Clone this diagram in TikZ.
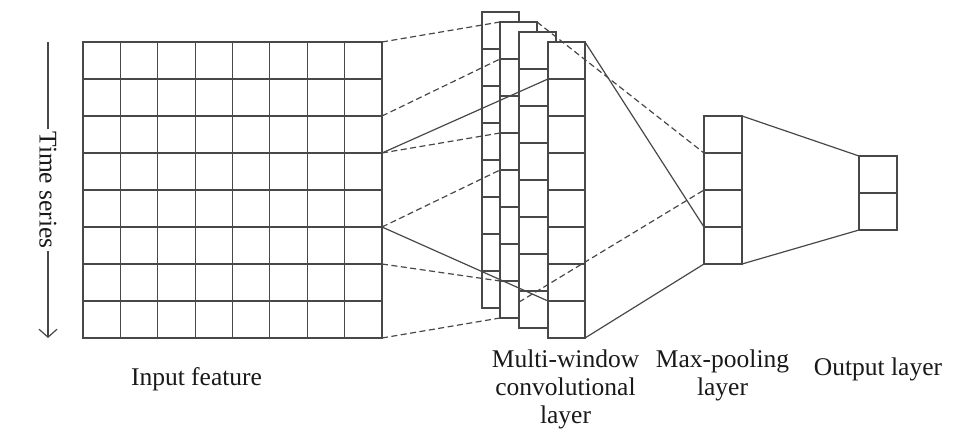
\documentclass[tikz,border=0pt]{standalone}
\usepackage{fontspec}
\setmainfont{Liberation Serif}
\usetikzlibrary{arrows.meta,calc}
\definecolor{ln}{RGB}{72,72,72}
\definecolor{tx}{RGB}{25,25,25}
\begin{document}
\begin{tikzpicture}[x=1pt,y=-1pt,
  cell/.style={draw=ln,line width=1.2pt,fill=white,minimum width=#1,minimum height=37pt,inner sep=0pt,outer sep=0pt,anchor=north west},
  cell/.default=37pt,
  conn/.style={draw=ln,line width=1.2pt},
  dconn/.style={conn,dash pattern=on 6pt off 3.5pt},
  lbl/.style={font=\fontsize{25.5}{28}\selectfont,text=tx,inner sep=0pt}]
\useasboundingbox (0,0) rectangle (956,434);
% input feature grid
\foreach \r in {1,...,8}{\foreach \c in {1,...,8}{
  \node[cell=37.375pt] (in-\r-\c) at ({83+(\c-1)*37.375},{42+(\r-1)*37}) {};}}
% multi-window convolutional layers
\foreach \k/\x/\y in {1/482/12,2/500/22,3/519/32,4/548/42}{\foreach \r in {1,...,8}{
  \node[cell] (cv\k-\r) at (\x,{\y+(\r-1)*37}) {};}}
% max-pooling layer
\foreach \r in {1,...,4}{\node[cell=38pt] (mp-\r) at (704,{116+(\r-1)*37}) {};}
% output layer
\foreach \r in {1,2}{\node[cell=38pt] (out-\r) at (859,{156+(\r-1)*37}) {};}
% input -> conv
\draw[dconn] (in-1-8.north east) -- (cv2-1.north west);
\draw[dconn] (in-3-8.north east) -- (cv2-2.north west);
\draw[dconn] (in-4-8.north east) -- (cv2-4.north west);
\draw[dconn] (in-6-8.north east) -- (cv2-5.north west);
\draw[dconn] (in-7-8.north east) -- (cv2-8.north west);
\draw[dconn] (in-8-8.south east) -- (cv2-8.south west);
\draw[conn] (in-4-8.north east) -- (cv4-2.north west);
\draw[conn] (in-6-8.north east) -- (cv4-8.north west);
% conv -> max-pooling
\coordinate (c3p) at ($(cv3-8.north west)!0.3!(cv3-8.south west)$);
\draw[conn] (cv4-1.north east) -- (mp-4.north west);
\draw[dconn] (cv2-1.north east) -- (mp-2.north west);
\draw[dconn] (c3p) -- (mp-3.north west);
\draw[conn] (cv4-8.south east) -- (mp-4.south west);
% max-pooling -> output
\draw[conn] (mp-1.north east) -- (out-1.north west);
\draw[conn] (mp-4.south east) -- (out-2.south west);
% time series arrow
\coordinate (ts-top) at (48,42);
\coordinate (ts-bot) at (48,338);
\node[lbl,rotate=-90,inner sep=2pt] (ts) at (48,190) {Time series};
\draw[conn] (ts-top) -- (ts.west);
\draw[conn,-{Straight Barb[length=8pt,width=18pt]}] (ts.east) -- (ts-bot);
% labels (base anchor = baseline of last line)
\node[lbl,anchor=base] (lin) at (196.5,385) {Input feature};
\node[lbl,align=center,anchor=base] (lcv) at (565.5,423) {Multi-window\\convolutional\\layer};
\node[lbl,align=center,anchor=base] (lmp) at (722.5,395) {Max-pooling\\layer};
\node[lbl,anchor=base] (lout) at (878,375) {Output layer};
\end{tikzpicture}
\end{document}
